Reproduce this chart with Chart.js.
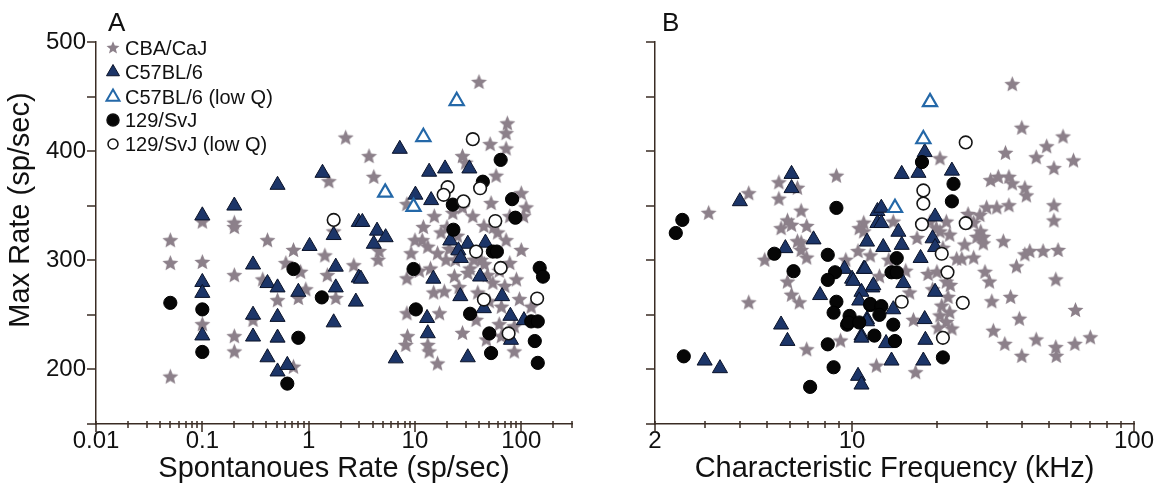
<!DOCTYPE html>
<html>
<head>
<meta charset="utf-8">
<script src="https://cdn.jsdelivr.net/npm/chart.js@4.4.1/dist/chart.umd.min.js"></script>
<style>
  html, body { margin: 0; padding: 0; background: #fff; }
  #wrap { position: relative; width: 1159px; height: 491px; }
  #chartA { position: absolute; left: 0; top: 0; }
  #chartB { position: absolute; left: 590px; top: 0; }
</style>
</head>
<body>
<div id="wrap">
  <canvas id="chartA" width="590" height="491"></canvas>
  <canvas id="chartB" width="569" height="491"></canvas>
</div>
<script>
const FONT = "'Liberation Sans', Arial, Helvetica, sans-serif";
const INK = '#111';
const AXIS = '#3a2c24';
const STAR = '#8c808a';
const NAVY = '#1c3568';
const LOWQ_BLUE = '#2468a8';

const seriesNames = ['CBA/CaJ', 'C57BL/6', 'C57BL/6 (low Q)', '129/SvJ', '129/SvJ (low Q)'];

// ---- panel A: [spontaneous rate (sp/sec), max rate (sp/sec)]
const cbaA = [
  [0.05,318],[0.05,297],[0.05,193],[0.1,335],[0.1,298],[0.1,241],[0.2,334],[0.2,330],[0.2,286],[0.2,230],
  [0.2,216],[0.41,318],[0.72,309],[0.61,297],[0.84,289],[0.51,263],[0.8,265],[0.94,273],[0.72,202],[0.3,245],
  [1.42,304],[1.5,286],[1.55,372],[2.23,412],[1.72,326],[2.66,295],[1.8,265],[0.37,282],
  [40,463],[74,425],[72,416],[51,406],[72,402],[3.7,395],[4.1,376],[28,395],[58,377],[8.4,351],[15.2,340],
  [52,352],[100,361],[111,348],[35,340],[44.5,331],[72,318],[100,309],[10,318],[11.7,318],[13.2,312],[9.2,306],
  [16.3,306],[19.6,300],[42,300],[78,297],[90,282],[8.4,283],[23.5,285],[31.4,288],[54,279],[18.9,271],
  [39,270],[65,257],[37.6,245],[17,251],[8.4,251],[28,233],[8.5,230],[8.2,222],[13.2,222],[13.6,216],
  [16.3,205],[86,216],[65,230],[47,227],[96,264],[124,257],[22.7,343],[30,389],[78,340],[105,340],
  [17.6,325],[60,325],[4.5,300],[62,241],[86,239],[4.6,308],
  [12,330],[25,322],[33,292],[45,296],[20,330],[28,348],[55,330],[14,292],[48,286],[70,276],
  [11,290],[15,270],[21,310],[24,300],[36,300],[50,262],[62,290],[26,275]
];
const c57A = [
  [0.1,341],[0.1,280],[0.1,270],[0.1,231],[0.2,350],[0.51,369],[1.35,380],[0.3,296],[0.41,279],[0.51,275],
  [0.3,250],[0.51,248],[0.3,230],[0.51,229],[0.41,211],[0.51,198],[0.63,204],[0.8,271],[1.02,313],[1.72,323],
  [1.8,294],[1.8,275],[1.72,243],[2.78,262],[2.96,284],[2.96,335],
  [7.2,402],[13.6,381],[19.2,384],[32.5,384],[10.1,360],[14.2,355],[3.2,335],[4.4,327],[5.3,321],[4.1,315],
  [21.5,318],[31.4,315],[46,316],[25.6,309],[27,302],[3.1,283],[14.9,283],[41,285],[26.7,267],[66,267],
  [44.5,256],[13,247],[79,249],[106,245],[13.2,233],[80,227],[6.6,210],[31.4,211]
];
const c57LowQA = [[24.7,446],[12,413],[5.25,362],[9.7,349]];
const svjA = [
  [0.05,261],[0.1,255],[0.1,216],[0.72,292],[0.8,229],[0.63,187],[1.33,266],[64,392],[43.5,372],[22.7,351],
  [82,356],[88,339],[23,328],[54,308],[59,308],[9.7,292],[149,293],[160,285],[10.2,255],[33,251],
  [50,233],[124,244],[143,244],[134,226],[52,215],[143,206]
];
const svjLowQA = [
  [1.72,337],[35,411],[20.3,367],[18.6,360],[28.6,354],[41,366],[57,336],[37.6,308],[64,293],[44.5,264],
  [141,265],[76,233]
];

// ---- panel B: [characteristic frequency (kHz), max rate (sp/sec)]
const cbaB = [
  [3.1,343],[4.3,361],[5.5,371],[5.5,356],[6.4,366],[8.8,377],[6.6,345],[5.9,336],[5.6,329],[6.9,331],
  [6.6,316],[6.6,309],[6.9,302],[4.9,300],[5.9,280],[6.1,268],[6.5,261],[4.3,261],[6.9,218],[9.1,226],
  [12.2,203],[11,326],[11,334],[10.5,308],[11.6,304],[20.5,393],[10.6,329],[20.5,326],[21.6,335],[6.1,332],
  [6.4,317],[16.8,197],[20,289],[22.3,277],[20.8,258],[21.6,243],[22.6,237],
  [37,461],[40,421],[56,413],[49,404],[35,398],[45,394],[61,391],[52,384],[31,373],[33,376],
  [36,376],[37,370],[41,366],[41.5,359],[52,350],[52,336],[36,350],[32.6,348],[30,348],[28.4,341],
  [25.8,342],[27,334],[28.6,326],[27.7,321],[34.4,317],[41,305],[42.7,308],[47.6,308],[53.8,309],[38.3,294],
  [27,302],[29.6,289],[30.7,280],[52.8,282],[31.3,262],[36.5,266],[62,254],[39.2,246],[31.7,235],[34.8,223],
  [45,227],[40,212],[52.8,220],[53,212],[61.7,223],[70,229],[24.5,301],[21.9,266],[22.2,252],[20.5,249],
  [20.2,238],[29.2,321],[29.2,315],[18.9,335],[19.9,329],[22.2,323],[21,311],[23.5,301],[25.1,314],[18.6,287],
  [19.3,273],[21.6,280],
  [13.5,300],[15.5,290],[16,270],[17,320],[14,335],[12.5,285],[16.5,245],[9.5,300]
];
const c57B = [
  [6.1,379],[6.1,366],[4.0,354],[5.8,311],[7.3,319],[9.4,292],[10.0,283],[11.0,292],[11.8,275],[7.7,268],
  [10.8,271],[10.6,263],[11.3,246],[5.6,241],[5.9,226],[3.0,208],[3.4,201],[10.8,231],[10.5,194],[10.8,186],
  [12.3,345],[12.3,334],[12.7,348],[15,379],[17.2,380],[18.1,399],[22.6,382],[19.7,340],[12.7,334],[14.6,326],
  [15,314],[11.3,317],[12.9,312],[19.3,320],[19.7,312],[17.5,302],[11.1,292],[10.1,281],[11.9,277],[15.2,279],
  [19.7,271],[11.3,244],[18.1,246],[10.8,229],[13.2,224],[18.2,227],[13.8,208],[17.9,208],[14,255]
];
const c57LowQB = [[18.9,445],[17.9,411],[14.2,348]];
const svjB = [
  [2.5,337],[2.37,325],[2.53,212],[8.8,348],[5.3,306],[8.2,305],[6.2,290],[8.7,289],[8.2,282],[8.8,262],
  [8.6,252],[9.8,249],[9.6,241],[8.2,223],[8.6,202],[7.1,184],[12,231],[11.6,259],[17.7,390],[22.9,370],
  [22.6,354],[14.4,302],[13.8,289],[14.4,289],[11.6,260],[12.7,258],[12.5,250],[9.7,243],[10.6,243],[14,241],
  [14.2,226],[21,211]
];
const svjLowQB = [
  [25.3,408],[17.9,364],[17.9,352],[17.7,333],[25.3,334],[20.8,306],[21.8,289],[15,262],[24.7,261],[21,229]
];

// ---- axes
const yMin = 150, yMax = 500, yStep = 50;
const yLabelled = [200, 300, 400, 500];
const srMin = 0.01, srMax = 300;
const srMajor = [0.01, 0.1, 1, 10, 100];
const srLabels = ['0.01', '0.1', '1', '10', '100'];
const cfMin = 2, cfMax = 100;
const cfMajor = [2, 10, 100];
const cfLabels = ['2', '10', '100'];

function logTicks(min, max) {
  const out = [];
  for (let e = Math.floor(Math.log10(min)); e <= Math.ceil(Math.log10(max)); e++) {
    for (let m = 1; m <= 9; m++) {
      const v = +(m * Math.pow(10, e)).toPrecision(6);
      if (v >= min * 0.999999 && v <= max * 1.000001) out.push(v);
    }
  }
  return out;
}
const near = (a, b) => Math.abs(a - b) <= Math.abs(b) * 1e-6;

function starImage(outer, inner, color) {
  const size = Math.ceil(outer * 2 + 2);
  const c = document.createElement('canvas');
  c.width = c.height = size;
  const g = c.getContext('2d');
  g.beginPath();
  for (let i = 0; i < 10; i++) {
    const r = i % 2 ? inner : outer;
    const a = -Math.PI / 2 + i * Math.PI / 5;
    g.lineTo(size / 2 + r * Math.cos(a), size / 2 + r * Math.sin(a));
  }
  g.closePath();
  g.fillStyle = color;
  g.fill();
  return c;
}
const starBig = starImage(8.4, 3.8, STAR);
const starSmall = starImage(6.8, 3.0, STAR);

const xy = arr => arr.map(([x, y]) => ({ x, y }));

function datasets(stars, tri, triLow, circ, circLow) {
  return [
    { label: seriesNames[0], data: xy(stars), pointStyle: starBig, pointRadius: 8, order: 5 },
    { label: seriesNames[1], data: xy(tri), pointStyle: 'triangle', pointRadius: 8.7,
      backgroundColor: NAVY, borderColor: '#0a1228', borderWidth: 1, order: 4 },
    { label: seriesNames[2], data: xy(triLow), pointStyle: 'triangle', pointRadius: 8.2,
      backgroundColor: '#fff', borderColor: LOWQ_BLUE, borderWidth: 2.2, order: 3 },
    { label: seriesNames[3], data: xy(circ), pointStyle: 'circle', pointRadius: 6.6,
      backgroundColor: '#060606', borderColor: '#000', borderWidth: 1, order: 2 },
    { label: seriesNames[4], data: xy(circLow), pointStyle: 'circle', pointRadius: 6.3,
      backgroundColor: '#fff', borderColor: '#151515', borderWidth: 1.6, order: 1 }
  ];
}

// legend marker drawing (panel A)
function marker(ctx, i, x, y) {
  ctx.save();
  if (i === 0) {
    ctx.drawImage(starSmall, x - starSmall.width / 2, y - starSmall.height / 2);
  } else if (i === 1 || i === 2) {
    const r = 7.5;
    ctx.beginPath();
    ctx.moveTo(x, y - r);
    ctx.lineTo(x + r * 0.866, y + r / 2);
    ctx.lineTo(x - r * 0.866, y + r / 2);
    ctx.closePath();
    ctx.fillStyle = i === 1 ? NAVY : '#fff';
    ctx.fill();
    ctx.lineWidth = i === 1 ? 1 : 2;
    ctx.strokeStyle = i === 1 ? '#0a1228' : LOWQ_BLUE;
    ctx.stroke();
  } else {
    ctx.beginPath();
    ctx.arc(x, y, i === 3 ? 6 : 5, 0, Math.PI * 2);
    ctx.fillStyle = i === 3 ? '#060606' : '#fff';
    ctx.fill();
    ctx.lineWidth = 1.5;
    ctx.strokeStyle = '#111';
    ctx.stroke();
  }
  ctx.restore();
}

const decor = {
  id: 'decor',
  afterDraw(chart, args, o) {
    const { ctx, chartArea: a, scales: { x, y } } = chart;
    ctx.save();
    ctx.strokeStyle = AXIS;
    ctx.lineWidth = 1.5;
    ctx.beginPath();
    for (const t of x.ticks) {
      const px = Math.round(x.getPixelForValue(t.value));
      ctx.moveTo(px, a.bottom - 3);
      ctx.lineTo(px, a.bottom + (t.major ? 8 : 4));
    }
    for (const t of y.ticks) {
      const py = Math.round(y.getPixelForValue(t.value));
      ctx.moveTo(a.left - 9, py);
      ctx.lineTo(a.left, py);
    }
    ctx.stroke();

    ctx.fillStyle = INK;
    ctx.textAlign = 'left';
    ctx.textBaseline = 'alphabetic';
    ctx.font = `26px ${FONT}`;
    ctx.fillText(o.letter, o.letterX, 31);

    if (o.yTitle) {
      ctx.save();
      ctx.translate(21, 210);
      ctx.rotate(-Math.PI / 2);
      ctx.textAlign = 'center';
      ctx.textBaseline = 'middle';
      ctx.font = `29px ${FONT}`;
      ctx.fillText(o.yTitle, 0, 0);
      ctx.restore();
    }
    if (o.legend) {
      const rows = [48, 72, 97, 120, 144];
      ctx.font = `20px ${FONT}`;
      ctx.textBaseline = 'middle';
      seriesNames.forEach((name, i) => {
        marker(ctx, i, 113, rows[i]);
        ctx.fillStyle = INK;
        ctx.fillText(name, 125, rows[i] + 1);
      });
    }
    ctx.restore();
  }
};

function makeChart(id, sets, xMin, xMax, xMajor, xLabels, xTitle, o) {
  const xVals = logTicks(xMin, xMax);
  return new Chart(document.getElementById(id), {
    type: 'scatter',
    data: { datasets: sets },
    options: {
      responsive: false,
      animation: false,
      events: [],
      layout: { padding: o.padding },
      plugins: { legend: { display: false }, tooltip: { enabled: false }, decor: o },
      scales: {
        x: {
          type: 'logarithmic',
          min: xMin,
          max: xMax,
          afterBuildTicks: ax => {
            ax.ticks = xVals.map(v => ({ value: v, major: xMajor.some(m => near(v, m)) }));
          },
          afterFit: ax => { ax.height = 67; },
          grid: { display: false, drawTicks: false },
          border: { display: true, color: AXIS, width: 1.5 },
          ticks: {
            autoSkip: false,
            maxRotation: 0,
            padding: 3,
            color: INK,
            font: { family: FONT, size: 24 },
            callback: v => {
              const i = xMajor.findIndex(m => near(v, m));
              return i >= 0 ? xLabels[i] : '';
            }
          },
          title: {
            display: true,
            text: xTitle,
            color: INK,
            font: { family: FONT, size: 29 },
            padding: { top: 0, bottom: 5 }
          }
        },
        y: {
          type: 'linear',
          min: yMin,
          max: yMax,
          afterFit: ax => { ax.width = o.yWidth; },
          grid: { display: false, drawTicks: false },
          border: { display: true, color: AXIS, width: 1.5 },
          ticks: {
            display: o.yLabels,
            stepSize: yStep,
            autoSkip: false,
            padding: 10,
            color: INK,
            font: { family: FONT, size: 24 },
            callback: v => (yLabelled.includes(v) ? String(v) : '')
          }
        }
      }
    },
    plugins: [decor]
  });
}

makeChart('chartA', datasets(cbaA, c57A, c57LowQA, svjA, svjLowQA),
  srMin, srMax, srMajor, srLabels, 'Spontanoues Rate (sp/sec)',
  { letter: 'A', letterX: 108, yTitle: 'Max Rate (sp/sec)', legend: true,
    yLabels: true, yWidth: 96, padding: { left: 0, top: 42, right: 18, bottom: 0 } });

makeChart('chartB', datasets(cbaB, c57B, c57LowQB, svjB, svjLowQB),
  cfMin, cfMax, cfMajor, cfLabels, 'Characteristic Frequency (kHz)',
  { letter: 'B', letterX: 72, yTitle: null, legend: false,
    yLabels: false, yWidth: 65, padding: { left: 0, top: 42, right: 25, bottom: 0 } });
</script>
</body>
</html>
